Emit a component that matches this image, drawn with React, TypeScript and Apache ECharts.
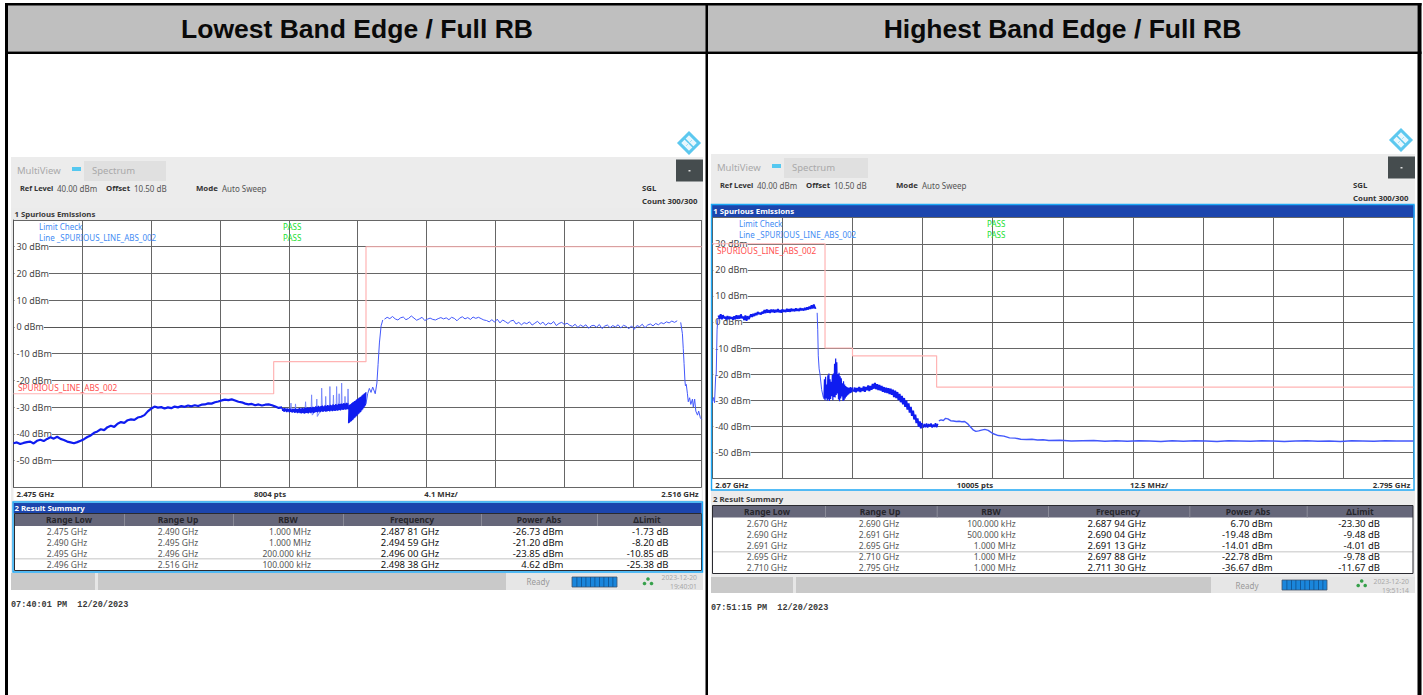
import React, { useEffect, useRef } from "react";
import * as echarts from "echarts";

const lowTitle = "Lowest Band Edge / Full RB";
const highTitle = "Highest Band Edge / Full RB";
const dbTicks = [30, 20, 10, 0, -10, -20, -30, -40, -50];

// Lowest band edge: MHz above 2.475 GHz
const lowLimit = [[0, -25], [15.5, -25], [15.5, -13], [21, -13], [21, 30], [41, 30]];
const lowSkirt = [
  -43.5, -43.2, -43.8, -43.4, -43.1, -42.9, -43.6, -42.6, -42.2, -42.7, -41.9, -41.3, -41.8, -41.1, -41.9, -42.3, -42.9, -43.2, -43.5, -43.1, -42.6,
  -42.0, -41.2, -40.6, -39.6, -39.1, -38.3, -38.6, -37.5, -37.0, -37.4, -36.2, -35.6, -35.9, -34.9, -34.6, -34.8, -33.9, -33.6, -33.0,
  -31.6, -30.6, -29.8, -30.2, -30.0, -30.5, -30.1, -30.4, -29.8, -30.1, -29.6, -29.9, -29.4, -29.7, -29.3, -29.6, -29.1, -29.0, -28.6, -28.7,
  -28.2, -27.9, -27.5, -27.2, -27.4, -27.1, -27.5, -28.0, -28.2, -28.7, -29.0, -28.8, -29.3, -29.0, -29.4, -29.1, -29.0, -29.3, -29.8, -30.3, -30.1,
];
const lowSkirtStart = 0;
const lowSkirtStep = 0.2;
const lowDense = [
  -30.3, -31.4, -30.5, -31.8, -30.4, -31.6, -30.6, -31.9, -30.5, -31.7, -30.7, -32.0, -30.6, -31.8, -30.8, -32.1, -30.6, -31.9, -30.7, -32.2, -30.5, -32.0, -30.7, -32.3, -30.6,
  -32.1, -30.4, -32.3, -30.6, -32.4, -30.3, -32.2, -30.5, -32.5, -30.2, -32.3, -30.4, -32.2, -30.1, -32.4, -30.3, -32.1, -30.0, -32.3, -30.2, -32.0, -29.9, -32.2, -30.1, -32.0,
  -29.7, -31.8, -29.9, -32.0, -29.5, -31.7, -29.8, -31.9, -29.6, -31.6, -29.4, -31.8, -29.7, -31.5, -29.3, -31.7, -29.5, -31.6, -29.2, -31.4, -29.4, -31.6, -29.1, -31.3, -29.3,
  -31.5, -29.0, -31.3, -29.2, -31.4, -28.9, -31.2, -29.1, -31.3, -28.8, -31.1, -28.9, -31.2, -28.7, -31.0, -28.8, -31.1, -28.5, -30.9, -28.7, -31.0, -28.4, -30.8, -28.6, -30.9,
];
const lowDenseStart = 16;
const lowDenseStep = 0.04;
const lowSpikes = [
  [16.5, -31], [16.53, -28.5], [16.56, -31], [16.78, -31], [16.8, -28.8], [16.83, -31], [17.37, -31], [17.4, -28], [17.43, -31], [17.73, -31], [17.76, -25.4], [17.8, -33],
  [18.04, -31], [18.07, -27], [18.1, -33.5], [18.33, -31], [18.36, -22.9], [18.4, -31], [18.57, -31], [18.6, -26], [18.63, -31], [18.82, -31], [18.85, -22.3], [18.88, -31],
  [19.03, -31], [19.06, -25.5], [19.09, -31], [19.22, -31], [19.25, -22.3], [19.28, -31], [19.37, -31], [19.4, -25], [19.43, -31], [19.52, -30.5], [19.55, -21], [19.58, -30.5],
  [19.72, -30.5], [19.75, -26], [19.78, -30.5], [19.9, -30], [19.93, -23.2], [19.96, -29],
];
const lowWedge = [
  -36.0, -29.2, -35.8, -29.0, -35.5, -28.8, -35.3, -28.5, -34.9, -28.2, -34.6, -28.0, -34.2, -27.7, -33.9, -27.5, -33.5, -27.2, -33.2, -27.0, -32.8, -26.7, -32.5, -26.4,
  -32.1, -26.2, -31.8, -25.9, -31.3, -25.6, -30.9, -25.3, -30.4, -25.0, -29.9, -24.7, -29.4, -24.4,
];
const lowWedgeStart = 19.96;
const lowWedgeStep = 0.028;
const lowRise = [[21, -28.8], [21.1, -25], [21.2, -23], [21.3, -24.5], [21.4, -22.5], [21.55, -25], [21.65, -21], [21.72, -14], [21.8, -6], [21.9, 0.4], [22, 2.6]];
const lowPlateau = [
  2.9, 3.6, 3.1, 3.9, 3.0, 2.6, 3.4, 3.7, 2.7, 3.2, 4.1, 3.3, 2.5, 3.0, 3.6, 2.4, 2.9, 3.3, 2.8, 2.6, 3.1, 3.5, 3.0, 3.4, 2.7, 3.6, 3.2, 2.3, 3.3, 3.8, 3.0, 3.5, 2.8, 3.7, 3.2, 3.6, 3.1, 2.6,
  2.4, 1.9, 2.7, 1.8, 2.9, 1.5, 2.6, 2.0, 1.3, 2.2, 2.5, 1.1, 1.7, 0.8, 1.6, 1.2, 1.9, 0.7, 1.4, 2.1, 1.0, 1.8, 0.6, 1.5, 1.1, 2.0, 0.5, 1.3, 1.7, 0.9,
  1.4, 0.6, 0.2, 1.0, -0.2, 0.7, 0.1, 0.8, -0.5, 0.4, 0.6, -0.1, 0.9, -0.6, 0.3, 0.7, -0.3, 0.5, 0.0, 0.8, -0.4, 0.6, 0.2, -0.7, 0.4, -0.9,
  0.5, 0.1, 1.0, -0.3, 0.7, 1.1, 0.4, 1.3, 0.8, 1.6, 1.2, 1.9, 1.5, 2.2, 1.7, 2.3,
];
const lowPlateauStart = 22.1;
const lowPlateauStep = 0.16;
const lowFall = [[39.75, 1.7], [39.85, -2.5], [39.9, -8], [39.95, -13.7], [40, -20], [40.03, -22], [40.08, -21.5], [40.15, -25], [40.2, -28], [40.28, -26.5], [40.35, -29], [40.45, -27], [40.5, -30], [40.58, -27], [40.65, -31.5], [40.75, -33], [40.82, -31.5], [40.92, -34], [41, -34.6]];

// Highest band edge: MHz above 2.67 GHz
const highLimit = [[0, 30], [20.1, 30], [20.1, -10], [25, -10], [25, -13], [40, -13], [40, -25], [125, -25]];
const highRise = [[0, -31], [0.1, -30], [0.25, -29], [0.4, -31], [0.6, -21], [0.7, -20], [0.85, -3], [1, 1.5]];
const highCarrier = [
  2.5, 1.2, 3.0, 1.0, 2.6, 1.4, 1.9, 0.9, 2.3, 1.1, 2.0, 1.3, 1.8, 0.9, 2.2, 1.0, 2.6, 1.2, 2.4, 1.3, 2.9, 1.4, 2.1, 0.7, 2.5, 0.4, 2.2, 1.1,
  2.0, 2.9, 1.9, 3.1, 2.3, 3.4, 2.6, 3.8, 3.0, 3.5, 2.9, 3.9, 3.3, 4.6, 3.4, 4.8, 3.6, 4.5, 3.5, 4.7, 3.8,
  4.7, 3.6, 4.6, 3.8, 4.9, 3.7, 4.5, 3.6, 4.8, 3.9, 4.6, 3.8, 5.0, 4.0, 4.9, 3.9, 5.1, 4.2, 4.9, 4.1, 5.2, 4.3, 5.0, 4.2, 5.3, 4.5, 5.1, 4.4, 5.4, 4.6, 5.6, 4.8, 5.9, 5.0, 6.4, 5.2, 6.7, 5.3, 5.5,
];
const highCarrierStart = 1.1;
const highCarrierStep = 0.2;
const highFall = [[18.7, 3.5], [18.8, -3], [18.9, -13], [19.05, -18], [19.2, -20], [19.5, -26], [19.8, -29]];
const highDense = [
  -29.5, -22, -30, -21, -29.4, -24, -30.2, -20.5, -29.8, -19.8, -30.3, -22, -29.6, -23, -28.5, -20.4, -30, -19.8, -28.8, -16,
  -29, -14, -28, -15.5, -27.5, -20, -29.8, -19.5, -30.4, -20.8, -29.4, -21.6, -28.6, -23.5, -30.3, -22.8, -30, -24, -29.4, -24.6,
  -28.7, -25, -28.2, -25.2, -27.8, -25.3, -27.4, -25, -27.2, -25.2, -27, -25.1,
];
const highDenseStart = 19.9;
const highDenseStep = 0.1;
const highBand = [
  -26.8, -25.2, -27, -25.4, -26.6, -25, -26.9, -25.4, -26.5, -24.8, -26.8, -25, -26.2, -24.4, -26.5, -24.6, -26, -23.8, -25.6, -23.4,
  -25.8, -23.9, -26.1, -24.2, -26.3, -24.6, -26.8, -25, -27.1, -25.2, -27.3, -25.4, -27.7, -25.6, -28, -26, -28.8, -26.4, -29.2, -26.9,
  -30, -27.6, -30.8, -28.4, -31.6, -29.2, -32.6, -30.2, -33.6, -31.2, -34.8, -32.6, -36, -34, -37.4, -35.6, -38.8, -37, -40.2, -38.2, -40.8, -38.8,
];
const highBandStart = 25.2;
const highBandStep = 0.2;
const highShelf = [-40.6, -39.2, -40.4, -39, -40.5, -39.2, -40.1, -39, -40.5, -39.4, -40.3, -38.9, -40.4, -39.1];
const highShelfStart = 37.6;
const highShelfStep = 0.2;
const highTail = [
  [40.4, -38], [40.8, -37.6], [41.2, -37.8], [41.6, -37], [42, -37.2], [42.5, -37.9], [43, -38], [43.5, -38.2], [44, -38.1], [44.5, -38.3], [45, -38.2], [45.5, -39], [46, -40.2], [46.5, -41.4],
  [47, -42], [47.5, -41.8], [48, -41.5], [48.6, -41.2], [49.2, -41.6], [50, -42.8], [51, -43.6], [52, -43.8], [53, -44.5], [54, -44.6], [55, -45], [56, -45.1], [57, -45], [58, -45.3], [59, -45.2],
  [60, -45.5], [62, -45.4], [64, -45.7], [66, -45.6], [68, -45.5], [70, -45.8], [72, -45.6], [74, -45.8], [76, -45.6], [78, -45.7], [80, -45.9], [82, -45.6], [84, -45.8], [86, -45.6], [88, -45.7],
  [90, -45.9], [92, -45.6], [94, -45.7], [96, -45.8], [98, -45.6], [100, -45.7], [102, -45.9], [104, -45.7], [106, -45.6], [108, -45.8], [110, -45.7], [112, -45.9], [114, -45.6], [116, -45.7],
  [118, -45.8], [120, -45.6], [122, -45.7], [125, -45.7],
];

const lowRanges = ["Range Low", "2.475 GHz", "2.490 GHz", "2.495 GHz", "2.496 GHz"];
const lowUps = ["Range Up", "2.490 GHz", "2.495 GHz", "2.496 GHz", "2.516 GHz"];
const lowRbw = ["RBW", "1.000 MHz", "1.000 MHz", "200.000 kHz", "100.000 kHz"];
const lowFreq = ["Frequency", "2.487 81 GHz", "2.494 59 GHz", "2.496 00 GHz", "2.498 38 GHz"];
const lowPower = ["Power Abs", "-26.73 dBm", "-21.20 dBm", "-23.85 dBm", "4.62 dBm"];
const lowDelta = ["ΔLimit", "-1.73 dB", "-8.20 dB", "-10.85 dB", "-25.38 dB"];
const highRanges = ["Range Low", "2.670 GHz", "2.690 GHz", "2.691 GHz", "2.695 GHz", "2.710 GHz"];
const highUps = ["Range Up", "2.690 GHz", "2.691 GHz", "2.695 GHz", "2.710 GHz", "2.795 GHz"];
const highRbw = ["RBW", "100.000 kHz", "500.000 kHz", "1.000 MHz", "1.000 MHz", "1.000 MHz"];
const highFreq = ["Frequency", "2.687 94 GHz", "2.690 04 GHz", "2.691 13 GHz", "2.697 88 GHz", "2.711 30 GHz"];
const highPower = ["Power Abs", "6.70 dBm", "-19.48 dBm", "-14.01 dBm", "-22.78 dBm", "-36.67 dBm"];
const highDelta = ["ΔLimit", "-23.30 dB", "-9.48 dB", "-4.01 dB", "-9.78 dB", "-11.67 dB"];

const run = (start: number, step: number, vals: number[]) => vals.map((v, i) => [+(start + step * i).toFixed(3), v]);
const UI = '"Noto Sans", sans-serif';
const BG = -1;
const FG = 50;

function rect(x: number, y: number, w: number, h: number, fill: string, z = BG, stroke?: string, lineWidth = 1) {
  return { type: "rect", z, silent: true, shape: { x, y, width: w, height: h }, style: { fill: fill || "none", stroke, lineWidth } };
}
function text(t: string, x: number, y: number, font: string, fill: string, align = "left", z = FG) {
  return { type: "text", z, silent: true, x, y, style: { text: t, x: 0, y: 0, font, fill, textAlign: align, textVerticalAlign: "middle", align, verticalAlign: "middle" } };
}

function panel(p: any) {
  const e: any[] = [];
  const f8 = `8px ${UI}`;
  const b8 = `bold 7.8px ${UI}`;
  // instrument background
  e.push(rect(p.l, p.top, p.r - p.l, p.statusB - p.top, "#ececec"));
  e.push(rect(p.plotL, p.plotT, p.plotR - p.plotL, p.stripB - p.plotT, "#ffffff"));
  e.push(rect(p.tab[0], p.tab[1], p.tab[2], p.tab[3], "#e0e0e0"));
  e.push(rect(p.mark[0], p.mark[1], 9, 4, "#55c8f0"));
  e.push(text("MultiView", p.text0, p.rowM, `9.5px ${UI}`, "#a9a9a9"));
  e.push(text("Spectrum", p.tab[0] + 8, p.rowM, `9.5px ${UI}`, "#a9a9a9"));
  e.push(text("Ref Level", p.text0 + 3, p.rowR, `bold 7.4px ${UI}`, "#333"));
  e.push(text("40.00 dBm", p.text0 + 40, p.rowR, f8, "#555"));
  e.push(text("Offset", p.text0 + 89, p.rowR, b8, "#333"));
  e.push(text("10.50 dB", p.text0 + 117, p.rowR, f8, "#555"));
  e.push(text("Mode", p.text0 + 179, p.rowR, b8, "#333"));
  e.push(text("Auto Sweep", p.text0 + 205, p.rowR, f8, "#555"));
  e.push(text("SGL", p.sglX, p.rowR, b8, "#333"));
  e.push(text("Count 300/300", p.sglX, p.rowR + 13, b8, "#333"));
  e.push(rect(p.r - 27, p.top + 2.5, 27, 22, "#454c4e"));
  e.push(rect(p.r - 14.5, p.top + 13, 2, 1.5, "#dddddd"));
  // R&S diamond
  e.push({ type: "rect", z: BG, silent: true, x: p.logo[0], y: p.logo[1], rotation: Math.PI / 4, shape: { x: -7, y: -7, width: 14, height: 14 }, style: { fill: "#e8f7fd", stroke: "#5cc8ef", lineWidth: 3 } });
  e.push({ type: "line", z: BG, silent: true, x: p.logo[0], y: p.logo[1], shape: { x1: -5, y1: -5, x2: 5, y2: 5 }, style: { stroke: "#5cc8ef", lineWidth: 1.6 } });
  e.push({ type: "line", z: BG, silent: true, x: p.logo[0], y: p.logo[1], shape: { x1: -3, y1: 3, x2: 3, y2: -3 }, style: { stroke: "#a6e0f5", lineWidth: 1 } });
  // plot title
  e.push(rect(p.barL, p.titleT, p.barR - p.barL, p.plotT - p.titleT, p.titleFill));
  e.push(text("1 Spurious Emissions", p.plotL + 1, (p.titleT + p.plotT) / 2, b8, p.titleText));
  // legend in plot
  e.push(text("Limit Check", p.legendX, p.legendY, f8, "#3f8cf4"));
  e.push(text("Line _SPURIOUS_LINE_ABS_002", p.legendX, p.legendY + 11, f8, "#3f8cf4"));
  e.push(text("PASS", p.passX, p.legendY, f8, "#20e030"));
  e.push(text("PASS", p.passX, p.legendY + 11, f8, "#20e030"));
  e.push(text("SPURIOUS_LINE_ABS_002", p.limitLabel[0], p.limitLabel[1], `8.3px ${UI}`, "#ff5050"));
  // strip under plot
  e.push(text(p.stripL, p.plotL + 3, p.stripY, b8, "#333"));
  e.push(text(p.pts, p.ptsX, p.stripY, b8, "#333", "center"));
  e.push(text(p.span, p.spanX, p.stripY, b8, "#333", "center"));
  e.push(text(p.stripR, p.plotR - 3, p.stripY, b8, "#333", "right"));
  if (p.frame) e.push(rect(p.frame[0], p.frame[1], p.frame[2], p.frame[3], "", 2, "#1ea8f5", 1.4));
  // result summary
  e.push(rect(p.sumL, p.sumT, p.sumR - p.sumL, p.headT - p.sumT, p.sumFill));
  e.push(text("2 Result Summary", p.sumL + 1, (p.sumT + p.headT) / 2, b8, p.sumText));
  e.push(rect(p.tabL, p.headT, p.tabR - p.tabL, p.tabB - p.headT, "#ffffff"));
  e.push(rect(p.tabL, p.headT, p.tabR - p.tabL, p.headB - p.headT, "#66677a"));
  for (const x of p.seps) e.push(rect(x, p.headT, 1, p.headB - p.headT, "#8a8b98"));
  e.push(rect(p.tabL, p.rowLine, p.tabR - p.tabL, 1.4, "#d8d8d8"));
  e.push(rect(p.tabL, p.headT, p.tabR - p.tabL, p.tabB - p.headT, "", BG, "#2a2a30", 1));
  if (p.sumFrame) e.push(rect(p.sumFrame[0], p.sumFrame[1], p.sumFrame[2], p.sumFrame[3], "", BG, "#1ea8f5", 1.4));
  const hdr = `bold 8.5px ${UI}`;
  p.cols.forEach((c: any) => {
    c.rows.forEach((t: string, i: number) => {
      if (i === 0) {
        e.push(text(t, c.hx, (p.headT + p.headB) / 2, hdr, "#26262c", "center"));
      } else {
        e.push(text(t, c.x, p.rowYs[i - 1], c.strong ? `9.5px ${UI}` : `8.5px ${UI}`, c.strong ? "#111" : "#555", c.align));
      }
    });
  });
  // status bar
  e.push(rect(p.l, p.statusT, p.r - p.l, p.statusB - p.statusT, "#e6e6e6"));
  e.push(rect(p.l, p.statusT, p.st1, p.statusB - p.statusT, "#c9c9c9"));
  e.push(rect(p.l + p.st1 + 3, p.statusT, p.st2, p.statusB - p.statusT, "#c9c9c9"));
  e.push(text("Ready", p.readyX, (p.statusT + p.statusB) / 2, `8px ${UI}`, "#999", "center"));
  e.push(rect(p.progX, p.progY, 45, 10, "#1a86dc", BG, "#44546a", 0.8));
  for (let k = 1; k < 10; k++) e.push(rect(p.progX + k * 4.5, p.progY, 0.8, 10, "#10508c"));
  e.push(text("2023-12-20", p.tsX, p.tsY, `6.8px ${UI}`, "#a8a8a8", "right"));
  e.push(text(p.clock, p.tsX, p.tsY + 9, `6.8px ${UI}`, "#a8a8a8", "right"));
  for (const [dx, dy] of [[0, -3], [-3.5, 1.5], [3.5, 1.5]]) {
    e.push({ type: "circle", z: BG, silent: true, shape: { cx: p.netX + dx, cy: p.netY + dy, r: 1.8 }, style: { fill: "#35a04a" } });
  }
  e.push(text(p.stamp, p.stampX, p.stampY, `bold 8.5px "Liberation Mono", monospace`, "#3a3a3a"));
  return e;
}

const lowPanel = {
  l: 11, r: 703, top: 157, statusT: 573, statusB: 590, plotL: 13.5, plotR: 701.7, plotT: 220, stripB: 500, titleT: 208, barL: 11, barR: 703,
  titleFill: "#ebebeb", titleText: "#3a3a3a", tab: [84, 161, 82, 20], mark: [72, 167], text0: 17, rowM: 170, rowR: 188, sglX: 642,
  logo: [689, 143], legendX: 39, legendY: 226, passX: 283, limitLabel: [18, 387.5], stripL: "2.475 GHz", pts: "8004 pts", ptsX: 270,
  span: "4.1 MHz/", spanX: 441, stripR: "2.516 GHz", stripY: 493.5, sumL: 13.5, sumR: 701.7, sumT: 503, headT: 513.5, headB: 526, sumFill: "#1c45ad", sumText: "#ffffff",
  tabL: 14.5, tabR: 701.5, tabB: 570.5, seps: [124, 233, 343, 481, 597], rowLine: 558, sumFrame: [13, 502, 689.5, 70],
  rowYs: [531.5, 542.3, 553, 564],
  cols: [
    { rows: lowRanges, x: 67, hx: 69, align: "center" },
    { rows: lowUps, x: 178, hx: 178, align: "center" },
    { rows: lowRbw, x: 311, hx: 288, align: "right" },
    { rows: lowFreq, x: 410, hx: 412, align: "center", strong: true },
    { rows: lowPower, x: 563.5, hx: 539, align: "right", strong: true },
    { rows: lowDelta, x: 668.5, hx: 647, align: "right", strong: true },
  ],
  st1: 84, st2: 408, readyX: 538, progX: 572, progY: 577, tsX: 697, tsY: 577, clock: "19:40:01", netX: 648, netY: 582,
  stamp: "07:40:01 PM  12/20/2023", stampX: 11, stampY: 604.5,
};
const highPanel = {
  l: 711, r: 1415, top: 154, statusT: 577, statusB: 593, plotL: 712.3, plotR: 1413.3, plotT: 217.7, stripB: 490, titleT: 205, barL: 711.5, barR: 1414.5,
  titleFill: "#1c45ad", titleText: "#ffffff", tab: [784, 158, 84, 20], mark: [772, 164], text0: 717, rowM: 167, rowR: 185, sglX: 1353,
  logo: [1401, 140], legendX: 739, legendY: 223.5, passX: 987, limitLabel: [717, 250], stripL: "2.67 GHz", pts: "10005 pts", ptsX: 975,
  span: "12.5 MHz/", spanX: 1149, stripR: "2.795 GHz", stripY: 484.5, sumL: 712, sumR: 1414, sumT: 493, headT: 505.5, headB: 517.5, sumFill: "#ececec", sumText: "#3a3a3a",
  tabL: 712.5, tabR: 1413, tabB: 573.5, seps: [825, 936.7, 1048, 1189.3, 1306.7], rowLine: 551, frame: [711.5, 204.5, 702.5, 285.5],
  rowYs: [523, 534, 545, 556, 567],
  cols: [
    { rows: highRanges, x: 767, hx: 767, align: "center" },
    { rows: highUps, x: 879, hx: 880, align: "center" },
    { rows: highRbw, x: 1015.7, hx: 991, align: "right" },
    { rows: highFreq, x: 1116.7, hx: 1118, align: "center", strong: true },
    { rows: highPower, x: 1272.7, hx: 1248, align: "right", strong: true },
    { rows: highDelta, x: 1380, hx: 1360, align: "right", strong: true },
  ],
  st1: 82, st2: 415, readyX: 1247, progX: 1282, progY: 580, tsX: 1409, tsY: 581, clock: "19:51:14", netX: 1361.7, netY: 584,
  stamp: "07:51:15 PM  12/20/2023", stampX: 711, stampY: 608,
};

function axes(idx: number, span: number, step: number) {
  return {
    x: {
      type: "value", gridIndex: idx, min: 0, max: span, interval: step, silent: true,
      axisLine: { show: true, lineStyle: { color: "#555" } }, axisTick: { show: false }, axisLabel: { show: false },
      splitLine: { show: true, lineStyle: { color: "#666666", width: 1 } },
    },
    y: {
      type: "value", gridIndex: idx, min: -60, max: 40, interval: 10, silent: true,
      axisLine: { show: true, lineStyle: { color: "#555" } }, axisTick: { show: false },
      splitLine: { show: true, lineStyle: { color: "#666666", width: 1 } },
      axisLabel: {
        inside: true, margin: 1, color: "#444", fontFamily: "Noto Sans", fontSize: 9, backgroundColor: "#ffffff", padding: [0, 0, 0, 2],
        formatter: (v: number) => (dbTicks.includes(v) ? `${v} dBm` : ""),
      },
    },
  };
}
function line(idx: number, data: any, color: string, width: number, z = 3) {
  return { type: "line", xAxisIndex: idx, yAxisIndex: idx, data, showSymbol: false, symbol: "none", silent: true, z, lineStyle: { color, width }, itemStyle: { color } };
}

export default function App() {
  const ref = useRef<HTMLDivElement>(null);
  useEffect(() => {
    const chart = echarts.init(ref.current!, undefined, { renderer: "svg" });
    const a0 = axes(0, 41, 4.1);
    const a1 = axes(1, 125, 12.5);
    const trace = "#0f1cf0";
    const thin = "#4358fb";
    const spike = "#7484fb";
    const limit = "#ffb4b4";
    const titleFont = 'bold 26.5px "Liberation Sans", Arial, sans-serif';
    const graphicEls: any[] = [
      rect(0, 0, 1423, 695, "#ffffff", -2),
      rect(7, 5, 699, 46.5, "#bfbfbf"),
      rect(708, 5, 709.5, 46.5, "#bfbfbf"),
      rect(5, 3, 1416.5, 2.5, "#000000"),
      rect(5, 51.5, 1416.5, 2.5, "#000000"),
      rect(5, 3, 3, 692, "#000000"),
      rect(705.5, 3, 2.5, 692, "#000000"),
      rect(1417.5, 3, 4, 692, "#000000"),
      text(lowTitle, 357, 29, titleFont, "#0a0a0a", "center", BG),
      text(highTitle, 1062.5, 29, titleFont, "#0a0a0a", "center", BG),
      ...panel(lowPanel),
      ...panel(highPanel),
    ];
    chart.setOption({
      animation: false,
      backgroundColor: "transparent",
      graphic: { elements: graphicEls },
      grid: [
        { left: 13.5, top: 220, width: 688.2, height: 267.3, containLabel: false },
        { left: 712.3, top: 217.7, width: 701, height: 260.6, containLabel: false },
      ],
      xAxis: [a0.x, a1.x],
      yAxis: [a0.y, a1.y],
      series: [
        line(0, lowLimit, limit, 1.2, 2),
        line(0, lowSpikes, spike, 0.9),
        line(0, run(lowSkirtStart, lowSkirtStep, lowSkirt), trace, 2.2),
        line(0, run(lowDenseStart, lowDenseStep, lowDense), trace, 1.3),
        line(0, run(lowWedgeStart, lowWedgeStep, lowWedge), trace, 1.2),
        line(0, lowRise, thin, 1),
        line(0, run(lowPlateauStart, lowPlateauStep, lowPlateau), thin, 1),
        line(0, lowFall, thin, 1),
        line(1, highLimit, limit, 1.2, 2),
        line(1, highRise, thin, 1),
        line(1, run(highCarrierStart, highCarrierStep, highCarrier), trace, 1.9),
        line(1, highFall, thin, 1),
        line(1, run(highDenseStart, highDenseStep, highDense), trace, 1.2),
        line(1, run(highBandStart, highBandStep, highBand), trace, 2),
        line(1, run(highShelfStart, highShelfStep, highShelf), trace, 1.6),
        line(1, highTail, thin, 1.4),
      ],
    });
    return () => chart.dispose();
  }, []);
  return <div ref={ref} style={{ position: "absolute", left: 0, top: 0, width: 1423, height: 695 }} />;
}
